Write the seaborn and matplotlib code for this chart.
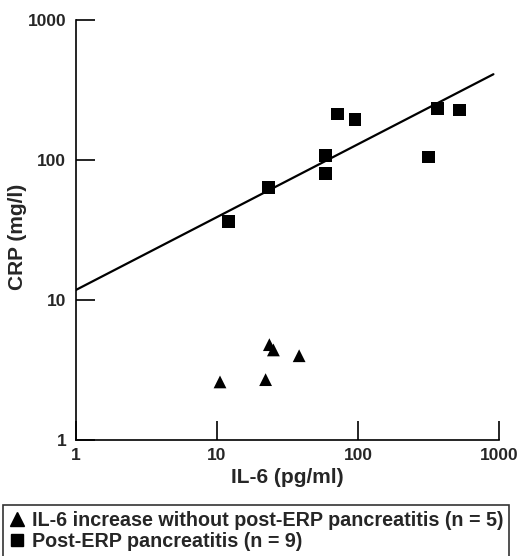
import numpy as np
import pandas as pd
import seaborn as sns
import matplotlib.pyplot as plt

# Точки
tri_il6 = [10.5, 22.1, 23.5, 25.1, 38.2]
tri_crp = [2.6, 2.7, 4.8, 4.4, 4.0]
sq_il6 = [12.1, 23.1, 59.0, 59.0, 71.0, 95.2, 317, 367, 523]
sq_crp = [36.3, 63.4, 108, 79.8, 213, 196, 105, 232, 228]

# Линия регрессии (концы)
line_il6 = [1, 910]
line_crp = [11.8, 410]

legend_labels = ['IL-6 increase without post-ERP pancreatitis (n = 5)',
                 'Post-ERP pancreatitis (n = 9)']

df = pd.DataFrame({
    'il6': tri_il6 + sq_il6,
    'crp': tri_crp + sq_crp,
    'group': [legend_labels[0]] * len(tri_il6) + [legend_labels[1]] * len(sq_il6),
})

sns.set_style('ticks')
plt.rcParams['font.family'] = ['Liberation Sans', 'DejaVu Sans']

fig = plt.figure(figsize=(5.2, 5.56), dpi=100)
ax = fig.add_axes([0.146, 0.2086, 0.814, 0.7554])

sns.scatterplot(data=df, x='il6', y='crp', style='group',
                markers={legend_labels[0]: '^', legend_labels[1]: 's'},
                color='black', s=85, edgecolor='black', linewidth=0,
                legend=False, ax=ax)
sns.lineplot(x=line_il6, y=line_crp, color='black', linewidth=1.6, ax=ax)

ax.set_xscale('log')
ax.set_yscale('log')
ax.set_xlim(1, 1000)
ax.set_ylim(1, 1000)
ticks = [1, 10, 100, 1000]
ax.set_xticks(ticks)
ax.set_yticks(ticks)
ax.set_xticklabels([str(t) for t in ticks], fontsize=12.5, fontweight='bold')
ax.set_yticklabels([str(t) for t in ticks], fontsize=12.5, fontweight='bold')
ax.minorticks_off()
ax.tick_params(axis='both', direction='in', length=14, width=1.2, color='black')
ax.tick_params(axis='x', pad=6)
ax.tick_params(axis='y', pad=7)
sns.despine(ax=ax)
for sp in ['left', 'bottom']:
    ax.spines[sp].set_linewidth(1.2)
    ax.spines[sp].set_color('black')

ax.set_xlabel('IL-6 (pg/ml)', fontsize=15, fontweight='bold', labelpad=3)
ax.set_ylabel('CRP (mg/l)', fontsize=15, fontweight='bold', labelpad=3)
ax.yaxis.set_label_coords(-0.116, 0.483)

# Легенда в рамке под графиком
handles = [plt.Line2D([], [], marker='^', color='black', linestyle='none', markersize=10),
           plt.Line2D([], [], marker='s', color='black', linestyle='none', markersize=8)]
leg = fig.legend(handles, legend_labels, loc='upper left',
                 bbox_to_anchor=(0.006, 1 - 505 / 556), frameon=True, fancybox=False,
                 edgecolor='black', handlelength=0.8, handletextpad=0.35,
                 borderpad=0.3, labelspacing=0.1, borderaxespad=0,
                 prop={'size': 14.2, 'weight': 'bold'})
leg.get_frame().set_linewidth(1.2)

fig.savefig('out.png', dpi=100)
